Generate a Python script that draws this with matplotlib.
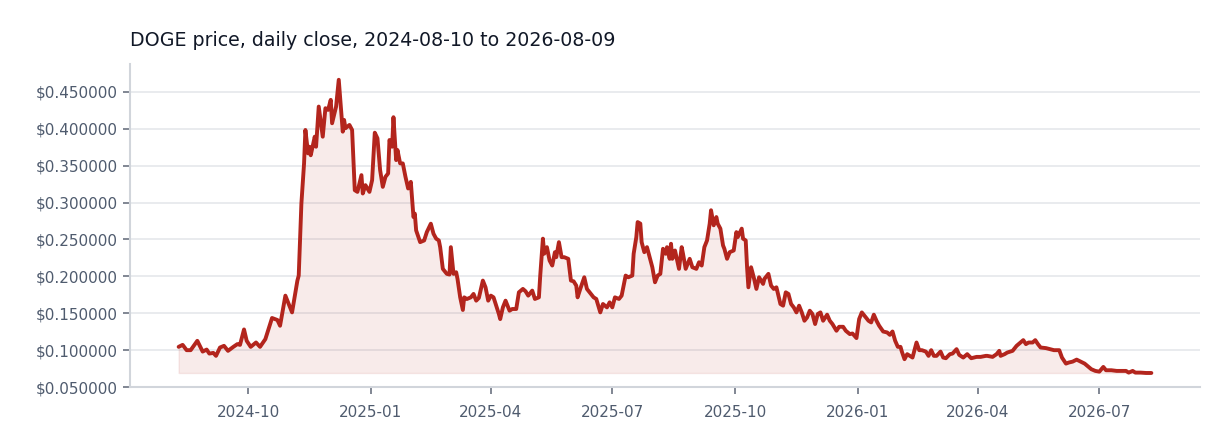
import numpy as np
import pandas as pd
import matplotlib
matplotlib.use("Agg")
import matplotlib.pyplot as plt
import matplotlib.dates as mdates
from matplotlib.ticker import FuncFormatter

# ---- data ----
title = "DOGE price, daily close, 2024-08-10 to 2026-08-09"
start_date = "2024-08-10"
day_offset = [
    0, 3, 6, 9, 14, 18, 21, 23, 26, 28, 31, 34, 37, 41, 44, 46, 49, 51, 54, 58,
    61, 65, 70, 74, 76, 80, 83, 85, 89, 90, 92, 94, 95, 97, 98, 99, 102, 103, 105, 108,
    110, 112, 114, 115, 118, 120, 123, 124, 125, 128, 130, 132, 134, 137, 138, 140, 143, 145, 147, 149,
    151, 153, 155, 157, 158, 160, 161, 163, 164, 166, 168, 170, 172, 174, 176, 177, 178, 181, 184, 186,
    189, 191, 193, 195, 196, 198, 201, 203, 204, 206, 208, 209, 211, 213, 214, 216, 219, 221, 223, 225,
    228, 230, 232, 234, 236, 238, 240, 241, 243, 245, 248, 250, 253, 255, 258, 260, 262, 265, 267, 270,
    271, 273, 274, 276, 278, 280, 282, 283, 285, 287, 289, 292, 294, 296, 298, 299, 301, 304, 306, 308,
    311, 313, 316, 318, 321, 323, 325, 327, 330, 332, 335, 337, 340, 341, 343, 344, 346, 347, 349, 351,
    353, 355, 357, 359, 361, 363, 365, 366, 368, 369, 370, 372, 375, 377, 378, 380, 383, 385, 388, 390,
    392, 394, 396, 398, 399, 401, 403, 404, 406, 408, 409, 411, 413, 416, 418, 419, 422, 423, 425, 426,
    427, 429, 431, 433, 435, 438, 439, 442, 444, 446, 448, 451, 453, 455, 457, 459, 461, 463, 465, 467,
    469, 471, 473, 475, 477, 479, 481, 483, 486, 488, 490, 493, 495, 498, 500, 503, 505, 508, 510, 512,
    515, 517, 519, 521, 523, 525, 528, 531, 533, 535, 537, 539, 541, 542, 544, 546, 548, 550, 553, 555,
    557, 560, 562, 564, 566, 568, 571, 573, 575, 578, 580, 583, 585, 588, 591, 594, 598, 601, 605, 606,
    610, 613, 615, 616, 619, 621, 625, 628, 630, 633, 635, 637, 640, 642, 644, 646, 650, 653, 656, 660,
    662, 665, 667, 670, 673, 676, 679, 681, 684, 687, 690, 693, 695, 699, 703, 706, 710, 712, 715, 717,
    721, 725, 729,
]
close_usd = [
    0.1044, 0.1071, 0.0999, 0.0999, 0.1126, 0.0980, 0.1007, 0.0953, 0.0962, 0.0922, 0.1035, 0.1058, 0.0990, 0.1044, 0.1081, 0.1071, 0.1280, 0.1126, 0.1044, 0.1103,
    0.1044, 0.1149, 0.1435, 0.1408, 0.1330, 0.1738, 0.1602, 0.1511, 0.1942, 0.2010, 0.2986, 0.3530, 0.3983, 0.3666, 0.3756, 0.3640, 0.3892, 0.3756, 0.4300, 0.3892,
    0.4278, 0.4255, 0.4391, 0.4074, 0.4300, 0.4663, 0.3960, 0.4119, 0.4006, 0.4051, 0.3983, 0.3167, 0.3144, 0.3371, 0.3122, 0.3235, 0.3144, 0.3303, 0.3946, 0.3870,
    0.3439, 0.3212, 0.3348, 0.3394, 0.3847, 0.3756, 0.4156, 0.3575, 0.3711, 0.3530, 0.3530, 0.3348, 0.3190, 0.3280, 0.2803, 0.2850, 0.2622, 0.2463, 0.2486, 0.2599,
    0.2713, 0.2577, 0.2510, 0.2486, 0.2395, 0.2101, 0.2033, 0.2024, 0.2395, 0.2033, 0.2055, 0.1965, 0.1715, 0.1544, 0.1715, 0.1692, 0.1715, 0.1761, 0.1670, 0.1707,
    0.1942, 0.1851, 0.1670, 0.1738, 0.1715, 0.1602, 0.1489, 0.1420, 0.1579, 0.1670, 0.1534, 0.1557, 0.1557, 0.1783, 0.1829, 0.1797, 0.1738, 0.1806, 0.1693, 0.1715,
    0.2010, 0.2510, 0.2306, 0.2395, 0.2214, 0.2146, 0.2327, 0.2259, 0.2463, 0.2259, 0.2259, 0.2237, 0.1942, 0.1932, 0.1874, 0.1715, 0.1829, 0.1987, 0.1829, 0.1783,
    0.1715, 0.1693, 0.1511, 0.1625, 0.1579, 0.1647, 0.1579, 0.1715, 0.1693, 0.1738, 0.2010, 0.1987, 0.2010, 0.2305, 0.2531, 0.2735, 0.2714, 0.2463, 0.2327, 0.2395,
    0.2259, 0.2123, 0.1919, 0.2010, 0.2033, 0.2373, 0.2305, 0.2395, 0.2237, 0.2441, 0.2237, 0.2350, 0.2101, 0.2395, 0.2305, 0.2101, 0.2237, 0.2123, 0.2101, 0.2191,
    0.2146, 0.2395, 0.2486, 0.2714, 0.2895, 0.2691, 0.2803, 0.2714, 0.2646, 0.2418, 0.2373, 0.2237, 0.2327, 0.2350, 0.2599, 0.2531, 0.2646, 0.2510, 0.2486, 0.2123,
    0.1851, 0.2123, 0.1987, 0.1829, 0.1987, 0.1897, 0.1965, 0.2033, 0.1874, 0.1829, 0.1851, 0.1625, 0.1602, 0.1783, 0.1761, 0.1625, 0.1579, 0.1511, 0.1602, 0.1511,
    0.1398, 0.1443, 0.1534, 0.1489, 0.1353, 0.1489, 0.1511, 0.1398, 0.1480, 0.1398, 0.1353, 0.1262, 0.1316, 0.1316, 0.1262, 0.1217, 0.1225, 0.1163, 0.1421, 0.1511,
    0.1443, 0.1398, 0.1375, 0.1480, 0.1398, 0.1330, 0.1252, 0.1239, 0.1207, 0.1252, 0.1126, 0.1044, 0.1044, 0.0980, 0.0877, 0.0945, 0.0922, 0.0899, 0.1103, 0.0999,
    0.0999, 0.0980, 0.0922, 0.0999, 0.0922, 0.0922, 0.0980, 0.0899, 0.0890, 0.0945, 0.0953, 0.1013, 0.0935, 0.0899, 0.0945, 0.0890, 0.0908, 0.0908, 0.0922, 0.0922,
    0.0908, 0.0945, 0.0990, 0.0922, 0.0945, 0.0967, 0.0990, 0.1058, 0.1089, 0.1135, 0.1081, 0.1103, 0.1103, 0.1135, 0.1081, 0.1035, 0.1027, 0.1013, 0.0999, 0.0999,
    0.0899, 0.0817, 0.0831, 0.0844, 0.0871, 0.0844, 0.0817, 0.0786, 0.0741, 0.0718, 0.0708, 0.0772, 0.0727, 0.0727, 0.0718, 0.0718, 0.0718, 0.0695, 0.0718, 0.0695,
    0.0695, 0.0690, 0.0690,
]
y_ticks = [0.05, 0.10, 0.15, 0.20, 0.25, 0.30, 0.35, 0.40, 0.45]

# ---- styling ----
LINE = "#b3251d"
TEXT = "#4f5b6e"
TITLE = "#111827"
SPINE = "#d1d5db"
GRID = "#e5e7eb"

dates = pd.Timestamp(start_date) + pd.to_timedelta(day_offset, unit="D")
vals = np.array(close_usd)

fig = plt.figure(figsize=(12.32, 4.48), dpi=100)
ax = fig.add_axes([130 / 1232, 1 - 387 / 448, 1070 / 1232, 323 / 448])

ax.fill_between(dates, vals, vals.min(), color=LINE, alpha=0.09, linewidth=1.0)
ax.plot(dates, vals, color=LINE, linewidth=2.8, solid_joinstyle="round", solid_capstyle="round")

ax.set_ylim(0.05, 0.4877)
ax.margins(x=0.05)
ax.set_yticks(y_ticks)
ax.yaxis.set_major_formatter(FuncFormatter(lambda v, p: f"${v:.6f}"))
ax.xaxis.set_major_locator(mdates.MonthLocator(bymonth=[1, 4, 7, 10]))
ax.xaxis.set_major_formatter(mdates.DateFormatter("%Y-%m"))

ax.grid(axis="y", color=GRID, linewidth=1.2)
ax.grid(axis="x", visible=False)
ax.set_axisbelow(True)
for s in ["top", "right"]:
    ax.spines[s].set_visible(False)
for s in ["left", "bottom"]:
    ax.spines[s].set_color(SPINE)
    ax.spines[s].set_linewidth(1.5)
ax.tick_params(axis="both", colors="#6b7280", labelcolor=TEXT, labelsize=11, length=5, width=1.2)
ax.tick_params(axis="x", pad=8)

ax.set_title(title, loc="left", fontsize=13.7, color=TITLE, pad=13)

fig.savefig("out.png", dpi=100)
